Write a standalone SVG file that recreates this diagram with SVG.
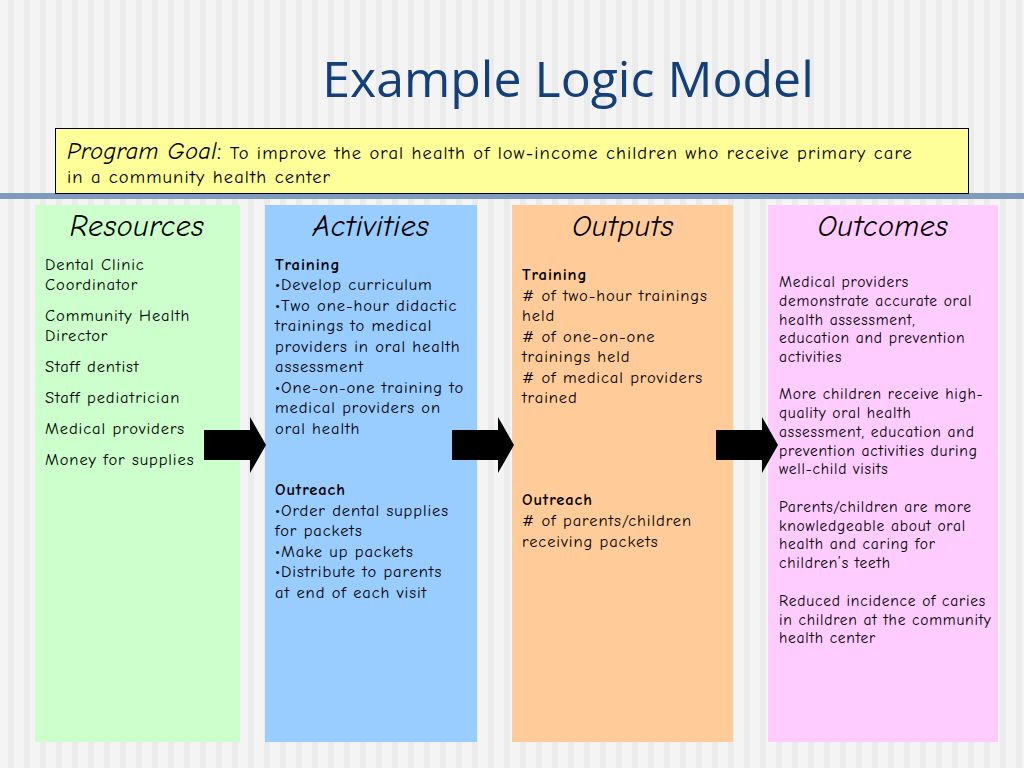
<svg xmlns="http://www.w3.org/2000/svg" width="1024" height="768" viewBox="0 0 1024 768">
<defs>
<pattern id="st" width="16" height="10" patternUnits="userSpaceOnUse"><rect width="16" height="10" fill="#f4f4f4"/><rect x="8" width="6" height="10" fill="#ebebeb"/></pattern>
<polygon id="arr" points="0,13 46,13 46,0 62,28 46,56 46,43 0,43" fill="#000"/>
</defs>
<style>
.t{font-family:"Comic Sans MS","Comic Neue","Open Sans","Liberation Sans",sans-serif;font-size:16.5px;letter-spacing:0.9px;fill:#000}
.h{font-family:"Comic Sans MS","Comic Neue","Open Sans","Liberation Sans",sans-serif;font-size:30px;letter-spacing:0.5px;font-style:italic;fill:#000;text-anchor:middle}
.b{font-weight:bold}
</style>
<rect width="1024" height="768" fill="url(#st)"/>
<rect x="0" y="193" width="1024" height="6" fill="#7f9cbf"/>
<text x="568" y="97" font-family="'Open Sans','Liberation Sans',sans-serif" font-size="50" fill="#14407a" text-anchor="middle">Example Logic Model</text>
<g id="goal">
<rect x="55.5" y="128.5" width="913" height="65" fill="#ffff99" stroke="#000"/>
<text class="t" x="67" y="159" style="font-size:18.5px;letter-spacing:1.1px"><tspan font-size="24" font-style="italic" letter-spacing="0.5">Program Goal</tspan><tspan font-size="24">:</tspan> To improve the oral health of low-income children who receive primary care</text>
<text class="t" x="67" y="183" style="font-size:18.5px;letter-spacing:1.1px">in a community health center</text>
</g>
<g id="resources">
<rect x="35" y="205" width="205" height="537" fill="#ccffcc"/>
<text class="h" x="137" y="236">Resources</text>
<text class="t" x="45"><tspan x="45" y="270">Dental Clinic</tspan><tspan x="45" y="290">Coordinator</tspan><tspan x="45" y="321">Community Health</tspan><tspan x="45" y="341">Director</tspan><tspan x="45" y="372">Staff dentist</tspan><tspan x="45" y="403">Staff pediatrician</tspan><tspan x="45" y="434">Medical providers</tspan><tspan x="45" y="465">Money for supplies</tspan></text>
</g>
<g id="activities">
<rect x="265" y="205" width="212" height="537" fill="#99ccff"/>
<text class="h" x="371" y="236">Activities</text>
<text class="t"><tspan x="275" y="270" class="b">Training</tspan><tspan x="275" y="290">•Develop curriculum</tspan><tspan x="275" y="311">•Two one-hour didactic</tspan><tspan x="275" y="331">trainings to medical</tspan><tspan x="275" y="352">providers in oral health</tspan><tspan x="275" y="372">assessment</tspan><tspan x="275" y="393">•One-on-one training to</tspan><tspan x="275" y="413">medical providers on</tspan><tspan x="275" y="434">oral health</tspan><tspan x="275" y="495" class="b">Outreach</tspan><tspan x="275" y="516">•Order dental supplies</tspan><tspan x="275" y="536">for packets</tspan><tspan x="275" y="557">•Make up packets</tspan><tspan x="275" y="577">•Distribute to parents</tspan><tspan x="275" y="598">at end of each visit</tspan></text>
</g>
<g id="outputs">
<rect x="512" y="205" width="221" height="537" fill="#ffcc99"/>
<text class="h" x="623" y="236">Outputs</text>
<text class="t"><tspan x="522" y="280" class="b">Training</tspan><tspan x="522" y="301"># of two-hour trainings</tspan><tspan x="522" y="321">held</tspan><tspan x="522" y="342"># of one-on-one</tspan><tspan x="522" y="362">trainings held</tspan><tspan x="522" y="383"># of medical providers</tspan><tspan x="522" y="403">trained</tspan><tspan x="522" y="505" class="b">Outreach</tspan><tspan x="522" y="526"># of parents/children</tspan><tspan x="522" y="547">receiving packets</tspan></text>
</g>
<g id="outcomes">
<rect x="768" y="205" width="230" height="537" fill="#ffccff"/>
<text class="h" x="883" y="236">Outcomes</text>
<text class="t" style="font-size:15.5px;letter-spacing:0.75px"><tspan x="779" y="287">Medical providers</tspan><tspan x="779" y="306">demonstrate accurate oral</tspan><tspan x="779" y="325">health assessment,</tspan><tspan x="779" y="343">education and prevention</tspan><tspan x="779" y="362">activities</tspan><tspan x="779" y="399">More children receive high-</tspan><tspan x="779" y="418">quality oral health</tspan><tspan x="779" y="437">assessment, education and</tspan><tspan x="779" y="456">prevention activities during</tspan><tspan x="779" y="474">well-child visits</tspan><tspan x="779" y="512">Parents/children are more</tspan><tspan x="779" y="531">knowledgeable about oral</tspan><tspan x="779" y="549">health and caring for</tspan><tspan x="779" y="568">children’s teeth</tspan><tspan x="779" y="606">Reduced incidence of caries</tspan><tspan x="779" y="625">in children at the community</tspan><tspan x="779" y="643">health center</tspan></text>
</g>
<g id="connectors">
<use href="#arr" x="204" y="417"/>
<use href="#arr" x="452" y="417"/>
<use href="#arr" x="716" y="417"/>
</g>
</svg>
